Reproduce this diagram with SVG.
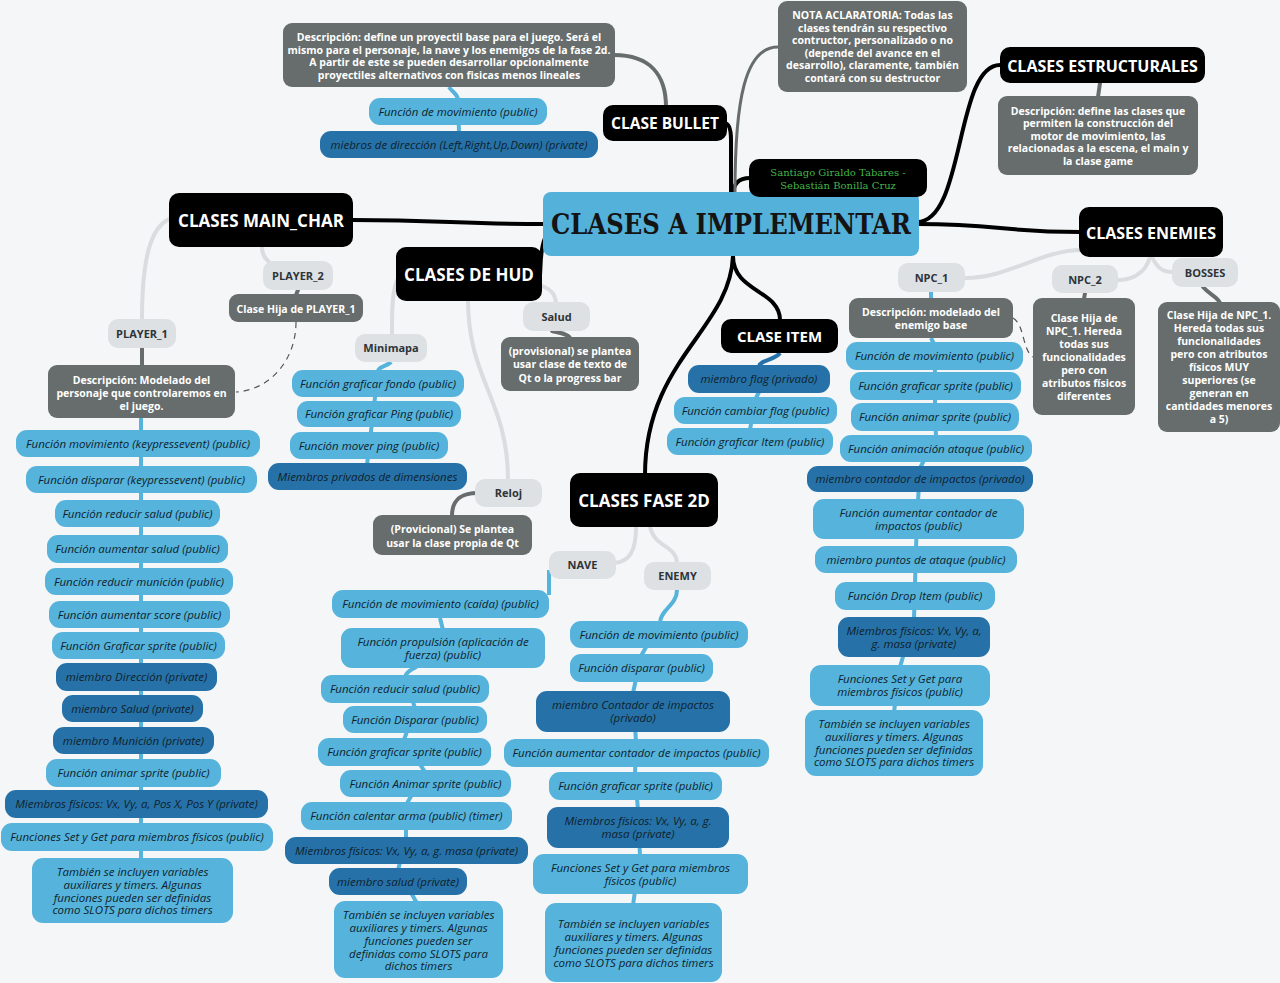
<svg xmlns="http://www.w3.org/2000/svg" width="1280" height="983" viewBox="0 0 1280 983">
<style>
.bk{fill:#000}
.cn{fill:#54b1d9}
.gr{fill:#666d6c}
.lg{fill:#dde1e4}
.lb{fill:#55b3dc}
.db{fill:#2672a8}
text{font-family:"Open Sans","DejaVu Sans",sans-serif;text-anchor:middle}
.tb{fill:#fff;font-weight:700}
.tg{fill:#fff;font-weight:700;font-size:10.5px}
.tl{fill:#2e3338;font-weight:700;font-size:11px}
.ti{fill:#0f1f2d;font-style:italic;font-size:11.5px}
.c0{fill:none;stroke:#000;stroke-width:4;stroke-linecap:round}
.c1{fill:none;stroke:#d9dde0;stroke-width:4;stroke-linecap:round}
.c2{fill:none;stroke:#666d6c;stroke-width:4;stroke-linecap:round}
.c3{fill:none;stroke:#55b3dc;stroke-width:4}
.c5{fill:none;stroke:#2672a8;stroke-width:4}
.cd{fill:none;stroke:#555;stroke-width:1.2;stroke-dasharray:6 5}
</style>
<rect width="1280" height="983" fill="#f5f6f7"/>
<g id="connectors">
<path class="c0" d="M353,220 C440,220 460,224 545,224"/>
<path class="c0" d="M545,238 C540,250 541,262 540,275"/>
<path class="c0" d="M731,195 L731,140 C731,128 729,123 724,123"/>
<path class="c0" d="M733,195 C733,182 740,178 750,178"/>
<path class="c2" d="M735,192 C735,100 745,47 778,47" style="stroke-width:3"/>
<path class="c0" d="M917,222 C965,222 955,65 1000,65"/>
<path class="c0" d="M917,224 C1000,224 1000,232 1080,232"/>
<path class="c0" d="M733,256 C733,292 780,290 780,320"/>
<path class="c0" d="M733,256 C730,330 645,360 645,475"/>
<path class="c1" d="M172,218 C150,225 142,260 142,320"/>
<path class="c1" d="M262,247 C262,255 265,258 270,263"/>
<path class="c1" d="M398,278 C392,290 392,310 392,335"/>
<path class="c1" d="M540,285 C553,290 555,295 556,303"/>
<path class="c1" d="M468,300 C468,380 508,400 508,480"/>
<path class="c1" d="M636,527 C636,550 630,562 614,563"/>
<path class="c1" d="M650,527 C655,548 676,545 677,563"/>
<path class="c1" d="M1082,250 C1040,250 1010,278 965,278"/>
<path class="c1" d="M1150,257 C1145,275 1130,280 1118,280"/>
<path class="c1" d="M1152,257 C1158,270 1165,272 1172,272"/>
<path class="c2" d="M614,55 C650,55 666,75 666,107"/>
<path class="c2" d="M1100,83 L1098,97"/>
<path class="c2" d="M142,348 L142,366"/>
<path class="c2" d="M298,290 L296,295"/>
<path class="c2" d="M552,331 C560,333 568,334 570,338"/>
<path class="c2" d="M478,493 C460,493 452,500 452,516"/>
<path class="c2" d="M1085,293 L1084,299"/>
<path class="c2" d="M1203,287 C1210,295 1218,297 1220,303"/>
<path class="cd" d="M296,322 C296,360 270,390 236,392"/>
<path class="cd" d="M1013,318 C1025,325 1022,350 1033,357"/>
<path class="c3" d="M449,87 C452,92 458,94 458,100 L459,132"/>
<path class="c3" d="M141,418 L141,858"/>
<path class="c3" d="M391,362 C388,366 378,366 378,372 L367,465"/>
<path class="c5" d="M780,353 C775,360 760,360 759,366"/>
<path class="c3" d="M759,392 L755,400 L750,430"/>
<path class="c3" d="M549,570 L549,595"/>
<path class="c3" d="M440,618 L443,630 C443,665 405,665 405,678 L415,708 L404,740 L425,772 L406,805 L406,840 L398,870 L418,905"/>
<path class="c3" d="M677,590 C677,605 660,610 660,623 L641,656 L633,693 L636,742 L635,775 L638,810 L640,856 L633,905"/>
<path class="c3" d="M931,292 L931,300 M931,338 L934,344 L935,374 L935,405 L936,437 L920,468 L918,501 L916,548 L915,584 L914,619 L900,667 L894,712"/>
</g>
<g id="center"><rect class="cn" x="543" y="192" width="376" height="64" rx="8"/><text x="731" y="234" style="font-family:'DejaVu Serif',serif;font-weight:700;font-size:27px;fill:#141414" textLength="360" lengthAdjust="spacingAndGlyphs">CLASES A IMPLEMENTAR</text></g>
<g id="bullet"><rect class="bk" x="603" y="105" width="124" height="36" rx="10"/><text class="tb" x="665" y="128.5" font-size="15.5">CLASE BULLET</text></g>
<g id="estructurales"><rect class="bk" x="1000" y="47" width="205" height="36" rx="10"/><text class="tb" x="1102.5" y="71.5" font-size="16">CLASES ESTRUCTURALES</text></g>
<g id="enemies"><rect class="bk" x="1079" y="207" width="144" height="50" rx="10"/><text class="tb" x="1151" y="238.5" font-size="16">CLASES ENEMIES</text></g>
<g id="mainchar"><rect class="bk" x="169" y="193" width="184" height="54" rx="10"/><text class="tb" x="261" y="226.5" font-size="17">CLASES MAIN_CHAR</text></g>
<g id="hud"><rect class="bk" x="396" y="247" width="146" height="54" rx="10"/><text class="tb" x="469" y="280.5" font-size="17">CLASES DE HUD</text></g>
<g id="item"><rect class="bk" x="721" y="319" width="117" height="34" rx="10"/><text class="tb" x="779.5" y="341.5" font-size="15">CLASE ITEM</text></g>
<g id="fase2d"><rect class="bk" x="570" y="473" width="148" height="54" rx="10"/><text class="tb" x="644" y="506.5" font-size="17">CLASES FASE 2D</text></g>
<g id="autores"><rect class="bk" x="749" y="159" width="178" height="38" rx="10"/><text x="838" style="font-family:'DejaVu Serif',serif;font-size:10px;fill:#43b649"><tspan x="838" y="176">Santiago Giraldo Tabares -</tspan><tspan x="838" y="189">Sebastián Bonilla Cruz</tspan></text></g>
<g id="bullet-desc"><rect class="gr" x="283" y="23" width="332" height="64" rx="9"/><text class="tg"><tspan x="449" y="41">Descripción: define un proyectil base para el juego. Será el</tspan><tspan x="449" y="53.5">mismo para el personaje, la nave y los enemigos de la fase 2d.</tspan><tspan x="449" y="66">A partir de este se pueden desarrollar opcionalmente</tspan><tspan x="449" y="78.5">proyectiles alternativos con fisicas menos lineales</tspan></text></g>
<g id="nota"><rect class="gr" x="778" y="1" width="189" height="91" rx="9"/><text class="tg"><tspan x="872.5" y="19">NOTA ACLARATORIA: Todas las</tspan><tspan x="872.5" y="31.5">clases tendrán su respectivo</tspan><tspan x="872.5" y="44">contructor, personalizado o no</tspan><tspan x="872.5" y="56.5">(depende del avance en el</tspan><tspan x="872.5" y="69">desarrollo), claramente, también</tspan><tspan x="872.5" y="81.5">contará con su destructor</tspan></text></g>
<g id="estr-desc"><rect class="gr" x="998" y="96" width="200" height="79" rx="9"/><text class="tg"><tspan x="1098" y="114.5">Descripción: define las clases que</tspan><tspan x="1098" y="127">permiten la construcción del</tspan><tspan x="1098" y="139.5">motor de movimiento, las</tspan><tspan x="1098" y="152">relacionadas a la escena, el main y</tspan><tspan x="1098" y="164.5">la clase game</tspan></text></g>
<g id="player2"><rect class="lg" x="263" y="261" width="70" height="29" rx="10"/><text class="tl" x="298" y="280">PLAYER_2</text></g>
<g id="hija-p1"><rect class="gr" x="229" y="294" width="134" height="28" rx="9"/><text class="tg" x="296" y="312.5">Clase Hija de PLAYER_1</text></g>
<g id="player1"><rect class="lg" x="108" y="319" width="68" height="29" rx="10"/><text class="tl" x="142" y="338">PLAYER_1</text></g>
<g id="p1-desc"><rect class="gr" x="48" y="365" width="187" height="53" rx="9"/><text class="tg"><tspan x="141.5" y="383.5">Descripción: Modelado del</tspan><tspan x="141.5" y="396.5">personaje que controlaremos en</tspan><tspan x="141.5" y="409.5">el juego.</tspan></text></g>
<g id="p1-1"><rect class="lb" x="16" y="430" width="244" height="27" rx="11"/><text class="ti" x="138" y="447.5">Función movimiento (keypressevent) (public)</text></g>
<g id="p1-2"><rect class="lb" x="26" y="466" width="231" height="27" rx="11"/><text class="ti" x="141.5" y="483.5">Función disparar (keypressevent) (public)</text></g>
<g id="p1-3"><rect class="lb" x="55" y="500" width="165" height="27" rx="11"/><text class="ti" x="137.5" y="517.5">Función reducir salud (public)</text></g>
<g id="p1-4"><rect class="lb" x="47" y="535" width="181" height="28" rx="11"/><text class="ti" x="137.5" y="553">Función aumentar salud (public)</text></g>
<g id="p1-5"><rect class="lb" x="45" y="568" width="188" height="27" rx="11"/><text class="ti" x="139" y="585.5">Función reducir munición (public)</text></g>
<g id="p1-6"><rect class="lb" x="49" y="601" width="181" height="27" rx="11"/><text class="ti" x="139.5" y="618.5">Función aumentar score (public)</text></g>
<g id="p1-7"><rect class="lb" x="52" y="632" width="173" height="27" rx="11"/><text class="ti" x="138.5" y="649.5">Función Graficar sprite (public)</text></g>
<g id="p1-8"><rect class="db" x="56" y="663" width="161" height="28" rx="11"/><text class="ti" x="136.5" y="681">miembro Dirección (private)</text></g>
<g id="p1-9"><rect class="db" x="62" y="695" width="141" height="27" rx="11"/><text class="ti" x="132.5" y="712.5">miembro Salud (private)</text></g>
<g id="p1-10"><rect class="db" x="53" y="727" width="161" height="27" rx="11"/><text class="ti" x="133.5" y="744.5">miembro Munición (private)</text></g>
<g id="p1-11"><rect class="lb" x="46" y="759" width="175" height="28" rx="11"/><text class="ti" x="133.5" y="777">Función animar sprite (public)</text></g>
<g id="p1-12"><rect class="db" x="5" y="790" width="263" height="28" rx="11"/><text class="ti" x="136.5" y="808">Miembros físicos: Vx, Vy, a, Pos X, Pos Y (private)</text></g>
<g id="p1-13"><rect class="lb" x="1" y="823" width="272" height="28" rx="11"/><text class="ti" x="137" y="841">Funciones Set y Get para miembros físicos (public)</text></g>
<g id="p1-14"><rect class="lb" x="32" y="858" width="201" height="65" rx="11"/><text class="ti"><tspan x="132.5" y="876">También se incluyen variables</tspan><tspan x="132.5" y="889">auxiliares y timers. Algunas</tspan><tspan x="132.5" y="901.5">funciones pueden ser definidas</tspan><tspan x="132.5" y="914">como SLOTS para dichos timers</tspan></text></g>
<g id="b-1"><rect class="lb" x="369" y="98" width="178" height="27" rx="11"/><text class="ti" x="458" y="115.5">Función de movimiento (public)</text></g>
<g id="b-2"><rect class="db" x="320" y="131" width="278" height="27" rx="11"/><text class="ti" x="459" y="148.5">miebros de dirección (Left,Right,Up,Down) (private)</text></g>
<g id="salud"><rect class="lg" x="523" y="302" width="67" height="29" rx="10"/><text class="tl" x="556.5" y="321">Salud</text></g>
<g id="salud-desc"><rect class="gr" x="501" y="337" width="138" height="54" rx="9"/><text class="tg"><tspan x="570" y="355">(provisional) se plantea</tspan><tspan x="570" y="368">usar clase de texto de</tspan><tspan x="570" y="381.5">Qt o la progress bar</tspan></text></g>
<g id="minimapa"><rect class="lg" x="355" y="334" width="72" height="28" rx="10"/><text class="tl" x="391" y="352">Minimapa</text></g>
<g id="m-1"><rect class="lb" x="292" y="370" width="172" height="27" rx="11"/><text class="ti" x="378" y="387.5">Función graficar fondo (public)</text></g>
<g id="m-2"><rect class="lb" x="297" y="401" width="164" height="26" rx="11"/><text class="ti" x="379" y="418">Función graficar Ping (public)</text></g>
<g id="m-3"><rect class="lb" x="290" y="432" width="158" height="27" rx="11"/><text class="ti" x="369" y="449.5">Función mover ping (public)</text></g>
<g id="m-4"><rect class="db" x="268" y="463" width="199" height="27" rx="11"/><text class="ti" x="367.5" y="480.5">Miembros privados de dimensiones</text></g>
<g id="reloj"><rect class="lg" x="475" y="479" width="67" height="28" rx="10"/><text class="tl" x="508.5" y="497">Reloj</text></g>
<g id="reloj-desc"><rect class="gr" x="373" y="515" width="159" height="40" rx="9"/><text class="tg"><tspan x="452.5" y="533">(Provicional) Se plantea</tspan><tspan x="452.5" y="546.5">usar la clase propia de Qt</tspan></text></g>
<g id="i-1"><rect class="db" x="688" y="365" width="142" height="28" rx="11"/><text class="ti" x="759" y="383">miembro flag (privado)</text></g>
<g id="i-2"><rect class="lb" x="674" y="397" width="163" height="27" rx="11"/><text class="ti" x="755.5" y="414.5">Función cambiar flag (public)</text></g>
<g id="i-3"><rect class="lb" x="667" y="428" width="166" height="27" rx="11"/><text class="ti" x="750" y="445.5">Función graficar Item (public)</text></g>
<g id="nave"><rect class="lg" x="549" y="551" width="67" height="28" rx="10"/><text class="tl" x="582.5" y="569">NAVE</text></g>
<g id="enemy"><rect class="lg" x="644" y="562" width="67" height="28" rx="10"/><text class="tl" x="677.5" y="580">ENEMY</text></g>
<g id="n-1"><rect class="lb" x="332" y="590" width="217" height="28" rx="11"/><text class="ti" x="440.5" y="608">Función de movimiento (caída) (public)</text></g>
<g id="n-2"><rect class="lb" x="341" y="628" width="204" height="40" rx="11"/><text class="ti"><tspan x="443" y="646">Función propulsión (aplicación de</tspan><tspan x="443" y="659">fuerza) (public)</tspan></text></g>
<g id="n-3"><rect class="lb" x="321" y="675" width="168" height="28" rx="11"/><text class="ti" x="405" y="693">Función reducir salud (public)</text></g>
<g id="n-4"><rect class="lb" x="343" y="706" width="144" height="27" rx="11"/><text class="ti" x="415" y="723.5">Función Disparar (public)</text></g>
<g id="n-5"><rect class="lb" x="318" y="738" width="173" height="28" rx="11"/><text class="ti" x="404.5" y="756">Función graficar sprite (public)</text></g>
<g id="n-6"><rect class="lb" x="340" y="770" width="171" height="27" rx="11"/><text class="ti" x="425.5" y="787.5">Función Animar sprite (public)</text></g>
<g id="n-7"><rect class="lb" x="301" y="802" width="211" height="28" rx="11"/><text class="ti" x="406.5" y="820">Función calentar arma (public) (timer)</text></g>
<g id="n-8"><rect class="db" x="285" y="837" width="243" height="27" rx="11"/><text class="ti" x="406.5" y="854.5">Miembros físicos: Vx, Vy, a, g. masa (private)</text></g>
<g id="n-9"><rect class="db" x="329" y="868" width="138" height="27" rx="11"/><text class="ti" x="398" y="885.5">miembro salud (private)</text></g>
<g id="n-10"><rect class="lb" x="334" y="901" width="169" height="77" rx="11"/><text class="ti"><tspan x="418.5" y="919">También se incluyen variables</tspan><tspan x="418.5" y="932">auxiliares y timers. Algunas</tspan><tspan x="418.5" y="945">funciones pueden ser</tspan><tspan x="418.5" y="957.5">definidas como SLOTS para</tspan><tspan x="418.5" y="970">dichos timers</tspan></text></g>
<g id="e-1"><rect class="lb" x="570" y="621" width="178" height="27" rx="11"/><text class="ti" x="659" y="638.5">Función de movimiento (public)</text></g>
<g id="e-2"><rect class="lb" x="570" y="654" width="143" height="28" rx="11"/><text class="ti" x="641.5" y="672">Función disparar (public)</text></g>
<g id="e-3"><rect class="db" x="536" y="691" width="194" height="41" rx="11"/><text class="ti"><tspan x="633" y="709">miembro Contador de impactos</tspan><tspan x="633" y="722">(privado)</tspan></text></g>
<g id="e-4"><rect class="lb" x="504" y="739" width="265" height="28" rx="11"/><text class="ti" x="636.5" y="757">Función aumentar contador de impactos (public)</text></g>
<g id="e-5"><rect class="lb" x="549" y="772" width="173" height="28" rx="11"/><text class="ti" x="635.5" y="790">Función graficar sprite (public)</text></g>
<g id="e-6"><rect class="db" x="547" y="807" width="182" height="41" rx="11"/><text class="ti"><tspan x="638" y="825">Miembros físicos: Vx, Vy, a, g.</tspan><tspan x="638" y="838">masa (private)</tspan></text></g>
<g id="e-7"><rect class="lb" x="533" y="854" width="215" height="40" rx="11"/><text class="ti"><tspan x="640.5" y="872">Funciones Set y Get para miembros</tspan><tspan x="640.5" y="885">físicos (public)</tspan></text></g>
<g id="e-8"><rect class="lb" x="545" y="903" width="177" height="79" rx="11"/><text class="ti"><tspan x="633.5" y="928">También se incluyen variables</tspan><tspan x="633.5" y="941">auxiliares y timers. Algunas</tspan><tspan x="633.5" y="954">funciones pueden ser definidas</tspan><tspan x="633.5" y="966.5">como SLOTS para dichos timers</tspan></text></g>
<g id="npc1"><rect class="lg" x="898" y="263" width="67" height="29" rx="10"/><text class="tl" x="931.5" y="282">NPC_1</text></g>
<g id="npc1-desc"><rect class="gr" x="849" y="298" width="164" height="40" rx="9"/><text class="tg"><tspan x="931" y="316">Descripción: modelado del</tspan><tspan x="931" y="329">enemigo base</tspan></text></g>
<g id="c-1"><rect class="lb" x="846" y="342" width="177" height="28" rx="11"/><text class="ti" x="934.5" y="360">Función de movimiento (public)</text></g>
<g id="c-2"><rect class="lb" x="850" y="372" width="171" height="28" rx="11"/><text class="ti" x="935.5" y="390">Función graficar sprite (public)</text></g>
<g id="c-3"><rect class="lb" x="851" y="403" width="168" height="28" rx="11"/><text class="ti" x="935" y="421">Función animar sprite (public)</text></g>
<g id="c-4"><rect class="lb" x="840" y="435" width="192" height="27" rx="11"/><text class="ti" x="936" y="452.5">Función animación ataque (public)</text></g>
<g id="c-5"><rect class="db" x="807" y="466" width="226" height="26" rx="11"/><text class="ti" x="920" y="483">miembro contador de impactos (privado)</text></g>
<g id="c-6"><rect class="lb" x="813" y="499" width="211" height="40" rx="11"/><text class="ti"><tspan x="918.5" y="517">Función aumentar contador de</tspan><tspan x="918.5" y="530">impactos (public)</tspan></text></g>
<g id="c-7"><rect class="lb" x="815" y="546" width="202" height="27" rx="11"/><text class="ti" x="916" y="563.5">miembro puntos de ataque (public)</text></g>
<g id="c-8"><rect class="lb" x="835" y="582" width="160" height="28" rx="11"/><text class="ti" x="915" y="600">Función Drop Item (public)</text></g>
<g id="c-9"><rect class="db" x="838" y="617" width="152" height="40" rx="11"/><text class="ti"><tspan x="914" y="635">Miembros físicos: Vx, Vy, a,</tspan><tspan x="914" y="648">g. masa (private)</tspan></text></g>
<g id="c-10"><rect class="lb" x="810" y="665" width="180" height="41" rx="11"/><text class="ti"><tspan x="900" y="683">Funciones Set y Get para</tspan><tspan x="900" y="696">miembros físicos (public)</tspan></text></g>
<g id="c-11"><rect class="lb" x="805" y="710" width="178" height="66" rx="11"/><text class="ti"><tspan x="894" y="728">También se incluyen variables</tspan><tspan x="894" y="741">auxiliares y timers. Algunas</tspan><tspan x="894" y="753.5">funciones pueden ser definidas</tspan><tspan x="894" y="766">como SLOTS para dichos timers</tspan></text></g>
<g id="npc2"><rect class="lg" x="1052" y="265" width="66" height="28" rx="10"/><text class="tl" x="1085" y="283.5">NPC_2</text></g>
<g id="npc2-desc"><rect class="gr" x="1033" y="298" width="102" height="117" rx="9"/><text class="tg"><tspan x="1084" y="322">Clase Hija de</tspan><tspan x="1084" y="335">NPC_1. Hereda</tspan><tspan x="1084" y="348">todas sus</tspan><tspan x="1084" y="361">funcionalidades</tspan><tspan x="1084" y="374">pero con</tspan><tspan x="1084" y="386.5">atributos físicos</tspan><tspan x="1084" y="399.5">diferentes</tspan></text></g>
<g id="bosses"><rect class="lg" x="1172" y="258" width="66" height="29" rx="10"/><text class="tl" x="1205" y="276.5">BOSSES</text></g>
<g id="bosses-desc"><rect class="gr" x="1158" y="302" width="122" height="130" rx="9"/><text class="tg"><tspan x="1219" y="319">Clase Hija de NPC_1.</tspan><tspan x="1219" y="332">Hereda todas sus</tspan><tspan x="1219" y="345">funcionalidades</tspan><tspan x="1219" y="358">pero con atributos</tspan><tspan x="1219" y="371">físicos MUY</tspan><tspan x="1219" y="384">superiores (se</tspan><tspan x="1219" y="397">generan en</tspan><tspan x="1219" y="410">cantidades menores</tspan><tspan x="1219" y="422.5">a 5)</tspan></text></g>
</svg>
